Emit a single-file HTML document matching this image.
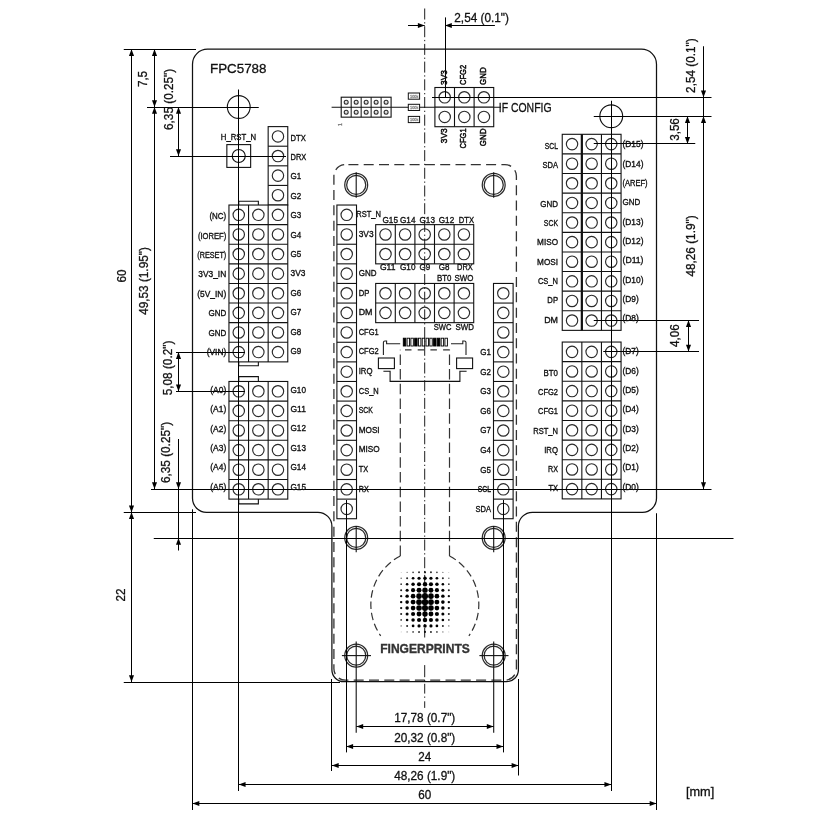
<!DOCTYPE html>
<html lang="en"><head><meta charset="utf-8"><title>FPC5788 mechanical drawing</title>
<style>
html,body{margin:0;padding:0;background:#fff;}
body{width:829px;height:820px;overflow:hidden;font-family:"Liberation Sans",Arial,sans-serif;}
svg{display:block;}
text{font-family:"Liberation Sans",Arial,sans-serif;}
</style></head><body>
<svg width="829" height="820" viewBox="0 0 829 820">
<g stroke="#111" fill="none" stroke-linecap="butt">
<line x1="331.60" y1="107.20" x2="501.00" y2="107.20" stroke-width="1.1" />
<path d="M207.5,49.2 H641.5 A15 15 0 0 1 656.5,64.2 V498.29999999999995 A14 14 0 0 1 642.5,512.3 H532.4 A14 14 0 0 0 518.4,526.3 V669.7 A12 12 0 0 1 506.4,681.7 H343.9 A12 12 0 0 1 331.9,669.7 V526.3 A14 14 0 0 0 317.9,512.3 H206.5 A14 14 0 0 1 192.5,498.29999999999995 V64.2 A15 15 0 0 1 207.5,49.2 Z" stroke-width="1.25"/>
<rect x="333.9" y="164.6" width="182.50" height="515.60" rx="11.5" ry="11.5" stroke="#333" stroke-width="1.3" stroke-dasharray="10 5.3" stroke-dashoffset="-3"/>
<circle cx="238.75" cy="107.0" r="11.4" stroke-width="1.1"/>
<circle cx="611.25" cy="116.25" r="11.4" stroke-width="1.1"/>
<circle cx="356.2" cy="184.9" r="11.45" stroke-width="1.25" stroke="#2a2a2a"/>
<circle cx="356.2" cy="184.9" r="9.55" stroke-width="1.25" stroke="#2a2a2a"/>
<circle cx="356.2" cy="537.9" r="11.45" stroke-width="1.25" stroke="#2a2a2a"/>
<circle cx="356.2" cy="537.9" r="9.55" stroke-width="1.25" stroke="#2a2a2a"/>
<circle cx="356.2" cy="655.6" r="11.45" stroke-width="1.25" stroke="#2a2a2a"/>
<circle cx="356.2" cy="655.6" r="9.55" stroke-width="1.25" stroke="#2a2a2a"/>
<line x1="356.20" y1="172.20" x2="356.20" y2="197.70" stroke-width="1.1" />
<line x1="356.20" y1="525.90" x2="356.20" y2="552.20" stroke-width="1.1" />
<line x1="356.20" y1="641.50" x2="356.20" y2="732.70" stroke-width="1.1" />
<line x1="341.90" y1="655.60" x2="371.00" y2="655.60" stroke-width="1.1" />
<circle cx="493.7" cy="184.9" r="11.45" stroke-width="1.25" stroke="#2a2a2a"/>
<circle cx="493.7" cy="184.9" r="9.55" stroke-width="1.25" stroke="#2a2a2a"/>
<circle cx="493.7" cy="537.9" r="11.45" stroke-width="1.25" stroke="#2a2a2a"/>
<circle cx="493.7" cy="537.9" r="9.55" stroke-width="1.25" stroke="#2a2a2a"/>
<circle cx="493.7" cy="655.6" r="11.45" stroke-width="1.25" stroke="#2a2a2a"/>
<circle cx="493.7" cy="655.6" r="9.55" stroke-width="1.25" stroke="#2a2a2a"/>
<line x1="493.70" y1="172.20" x2="493.70" y2="197.70" stroke-width="1.1" />
<line x1="493.70" y1="525.90" x2="493.70" y2="552.20" stroke-width="1.1" />
<line x1="493.70" y1="641.50" x2="493.70" y2="732.70" stroke-width="1.1" />
<line x1="479.40" y1="655.60" x2="508.50" y2="655.60" stroke-width="1.1" />
<rect x="268.16" y="126.61" width="19.61" height="78.42" fill="#fff" stroke-width="1.1"/>
<line x1="268.16" y1="146.21" x2="287.76" y2="146.21" stroke-width="1.1" />
<line x1="268.16" y1="165.82" x2="287.76" y2="165.82" stroke-width="1.1" />
<line x1="268.16" y1="185.42" x2="287.76" y2="185.42" stroke-width="1.1" />
<circle cx="277.96" cy="136.41" r="5.7" fill="none" stroke-width="1.15" stroke="#2a2a2a"/>
<circle cx="277.96" cy="156.01" r="5.7" fill="none" stroke-width="1.15" stroke="#2a2a2a"/>
<circle cx="277.96" cy="175.62" r="5.7" fill="none" stroke-width="1.15" stroke="#2a2a2a"/>
<circle cx="277.96" cy="195.23" r="5.7" fill="none" stroke-width="1.15" stroke="#2a2a2a"/>
<rect x="228.95" y="205.03" width="58.82" height="156.85" fill="#fff" stroke-width="1.1"/>
<line x1="248.55" y1="205.03" x2="248.55" y2="361.88" stroke-width="1.1" />
<line x1="268.16" y1="205.03" x2="268.16" y2="361.88" stroke-width="1.1" />
<line x1="228.95" y1="224.64" x2="287.76" y2="224.64" stroke-width="1.1" />
<line x1="228.95" y1="244.24" x2="287.76" y2="244.24" stroke-width="1.1" />
<line x1="228.95" y1="263.85" x2="287.76" y2="263.85" stroke-width="1.1" />
<line x1="228.95" y1="283.45" x2="287.76" y2="283.45" stroke-width="1.1" />
<line x1="228.95" y1="303.06" x2="287.76" y2="303.06" stroke-width="1.1" />
<line x1="228.95" y1="322.67" x2="287.76" y2="322.67" stroke-width="1.1" />
<line x1="228.95" y1="342.27" x2="287.76" y2="342.27" stroke-width="1.1" />
<circle cx="238.75" cy="214.83" r="5.7" fill="none" stroke-width="1.15" stroke="#2a2a2a"/>
<circle cx="238.75" cy="234.44" r="5.7" fill="none" stroke-width="1.15" stroke="#2a2a2a"/>
<circle cx="238.75" cy="254.05" r="5.7" fill="none" stroke-width="1.15" stroke="#2a2a2a"/>
<circle cx="238.75" cy="273.65" r="5.7" fill="none" stroke-width="1.15" stroke="#2a2a2a"/>
<circle cx="238.75" cy="293.26" r="5.7" fill="none" stroke-width="1.15" stroke="#2a2a2a"/>
<circle cx="238.75" cy="312.86" r="5.7" fill="none" stroke-width="1.15" stroke="#2a2a2a"/>
<circle cx="238.75" cy="332.47" r="5.7" fill="none" stroke-width="1.15" stroke="#2a2a2a"/>
<circle cx="238.75" cy="352.08" r="5.7" fill="none" stroke-width="1.15" stroke="#2a2a2a"/>
<circle cx="258.36" cy="214.83" r="5.7" fill="none" stroke-width="1.15" stroke="#2a2a2a"/>
<circle cx="258.36" cy="234.44" r="5.7" fill="none" stroke-width="1.15" stroke="#2a2a2a"/>
<circle cx="258.36" cy="254.05" r="5.7" fill="none" stroke-width="1.15" stroke="#2a2a2a"/>
<circle cx="258.36" cy="273.65" r="5.7" fill="none" stroke-width="1.15" stroke="#2a2a2a"/>
<circle cx="258.36" cy="293.26" r="5.7" fill="none" stroke-width="1.15" stroke="#2a2a2a"/>
<circle cx="258.36" cy="312.86" r="5.7" fill="none" stroke-width="1.15" stroke="#2a2a2a"/>
<circle cx="258.36" cy="332.47" r="5.7" fill="none" stroke-width="1.15" stroke="#2a2a2a"/>
<circle cx="258.36" cy="352.08" r="5.7" fill="none" stroke-width="1.15" stroke="#2a2a2a"/>
<circle cx="277.96" cy="214.83" r="5.7" fill="none" stroke-width="1.15" stroke="#2a2a2a"/>
<circle cx="277.96" cy="234.44" r="5.7" fill="none" stroke-width="1.15" stroke="#2a2a2a"/>
<circle cx="277.96" cy="254.05" r="5.7" fill="none" stroke-width="1.15" stroke="#2a2a2a"/>
<circle cx="277.96" cy="273.65" r="5.7" fill="none" stroke-width="1.15" stroke="#2a2a2a"/>
<circle cx="277.96" cy="293.26" r="5.7" fill="none" stroke-width="1.15" stroke="#2a2a2a"/>
<circle cx="277.96" cy="312.86" r="5.7" fill="none" stroke-width="1.15" stroke="#2a2a2a"/>
<circle cx="277.96" cy="332.47" r="5.7" fill="none" stroke-width="1.15" stroke="#2a2a2a"/>
<circle cx="277.96" cy="352.08" r="5.7" fill="none" stroke-width="1.15" stroke="#2a2a2a"/>
<rect x="228.95" y="381.47" width="58.82" height="117.64" fill="#fff" stroke-width="1.1"/>
<line x1="248.55" y1="381.47" x2="248.55" y2="499.11" stroke-width="1.1" />
<line x1="268.16" y1="381.47" x2="268.16" y2="499.11" stroke-width="1.1" />
<line x1="228.95" y1="401.08" x2="287.76" y2="401.08" stroke-width="1.1" />
<line x1="228.95" y1="420.68" x2="287.76" y2="420.68" stroke-width="1.1" />
<line x1="228.95" y1="440.29" x2="287.76" y2="440.29" stroke-width="1.1" />
<line x1="228.95" y1="459.90" x2="287.76" y2="459.90" stroke-width="1.1" />
<line x1="228.95" y1="479.50" x2="287.76" y2="479.50" stroke-width="1.1" />
<circle cx="238.75" cy="391.28" r="5.7" fill="none" stroke-width="1.15" stroke="#2a2a2a"/>
<circle cx="238.75" cy="410.88" r="5.7" fill="none" stroke-width="1.15" stroke="#2a2a2a"/>
<circle cx="238.75" cy="430.49" r="5.7" fill="none" stroke-width="1.15" stroke="#2a2a2a"/>
<circle cx="238.75" cy="450.09" r="5.7" fill="none" stroke-width="1.15" stroke="#2a2a2a"/>
<circle cx="238.75" cy="469.70" r="5.7" fill="none" stroke-width="1.15" stroke="#2a2a2a"/>
<circle cx="238.75" cy="489.31" r="5.7" fill="none" stroke-width="1.15" stroke="#2a2a2a"/>
<circle cx="258.36" cy="391.28" r="5.7" fill="none" stroke-width="1.15" stroke="#2a2a2a"/>
<circle cx="258.36" cy="410.88" r="5.7" fill="none" stroke-width="1.15" stroke="#2a2a2a"/>
<circle cx="258.36" cy="430.49" r="5.7" fill="none" stroke-width="1.15" stroke="#2a2a2a"/>
<circle cx="258.36" cy="450.09" r="5.7" fill="none" stroke-width="1.15" stroke="#2a2a2a"/>
<circle cx="258.36" cy="469.70" r="5.7" fill="none" stroke-width="1.15" stroke="#2a2a2a"/>
<circle cx="258.36" cy="489.31" r="5.7" fill="none" stroke-width="1.15" stroke="#2a2a2a"/>
<circle cx="277.96" cy="391.28" r="5.7" fill="none" stroke-width="1.15" stroke="#2a2a2a"/>
<circle cx="277.96" cy="410.88" r="5.7" fill="none" stroke-width="1.15" stroke="#2a2a2a"/>
<circle cx="277.96" cy="430.49" r="5.7" fill="none" stroke-width="1.15" stroke="#2a2a2a"/>
<circle cx="277.96" cy="450.09" r="5.7" fill="none" stroke-width="1.15" stroke="#2a2a2a"/>
<circle cx="277.96" cy="469.70" r="5.7" fill="none" stroke-width="1.15" stroke="#2a2a2a"/>
<circle cx="277.96" cy="489.31" r="5.7" fill="none" stroke-width="1.15" stroke="#2a2a2a"/>
<path d="M238.75,205.03 V201.23 H258.36 V205.03" stroke-width="1.1"/>
<path d="M238.75,361.88 V365.68 H258.36 V361.88" stroke-width="1.1"/>
<path d="M238.75,381.47 V376.67 H258.36 V381.47" stroke-width="1.1"/>
<path d="M238.75,499.11 V503.91 H258.36 V499.11" stroke-width="1.1"/>
<rect x="226.85" y="144.61" width="23.8" height="22.8" stroke-width="1.1"/>
<circle cx="238.75" cy="156.01" r="6.5" stroke-width="1.15"/>
<rect x="562.24" y="134.30" width="58.82" height="196.06" fill="#fff" stroke-width="1.1"/>
<line x1="581.84" y1="134.30" x2="581.84" y2="330.36" stroke-width="1.1" />
<line x1="601.45" y1="134.30" x2="601.45" y2="330.36" stroke-width="1.1" />
<line x1="562.24" y1="153.90" x2="621.05" y2="153.90" stroke-width="1.1" />
<line x1="562.24" y1="173.51" x2="621.05" y2="173.51" stroke-width="1.1" />
<line x1="562.24" y1="193.12" x2="621.05" y2="193.12" stroke-width="1.1" />
<line x1="562.24" y1="212.72" x2="621.05" y2="212.72" stroke-width="1.1" />
<line x1="562.24" y1="232.33" x2="621.05" y2="232.33" stroke-width="1.1" />
<line x1="562.24" y1="251.93" x2="621.05" y2="251.93" stroke-width="1.1" />
<line x1="562.24" y1="271.54" x2="621.05" y2="271.54" stroke-width="1.1" />
<line x1="562.24" y1="291.14" x2="621.05" y2="291.14" stroke-width="1.1" />
<line x1="562.24" y1="310.75" x2="621.05" y2="310.75" stroke-width="1.1" />
<circle cx="572.04" cy="144.10" r="5.7" fill="none" stroke-width="1.15" stroke="#2a2a2a"/>
<circle cx="572.04" cy="163.71" r="5.7" fill="none" stroke-width="1.15" stroke="#2a2a2a"/>
<circle cx="572.04" cy="183.31" r="5.7" fill="none" stroke-width="1.15" stroke="#2a2a2a"/>
<circle cx="572.04" cy="202.92" r="5.7" fill="none" stroke-width="1.15" stroke="#2a2a2a"/>
<circle cx="572.04" cy="222.52" r="5.7" fill="none" stroke-width="1.15" stroke="#2a2a2a"/>
<circle cx="572.04" cy="242.13" r="5.7" fill="none" stroke-width="1.15" stroke="#2a2a2a"/>
<circle cx="572.04" cy="261.74" r="5.7" fill="none" stroke-width="1.15" stroke="#2a2a2a"/>
<circle cx="572.04" cy="281.34" r="5.7" fill="none" stroke-width="1.15" stroke="#2a2a2a"/>
<circle cx="572.04" cy="300.95" r="5.7" fill="none" stroke-width="1.15" stroke="#2a2a2a"/>
<circle cx="572.04" cy="320.55" r="5.7" fill="none" stroke-width="1.15" stroke="#2a2a2a"/>
<circle cx="591.64" cy="144.10" r="5.7" fill="none" stroke-width="1.15" stroke="#2a2a2a"/>
<circle cx="591.64" cy="163.71" r="5.7" fill="none" stroke-width="1.15" stroke="#2a2a2a"/>
<circle cx="591.64" cy="183.31" r="5.7" fill="none" stroke-width="1.15" stroke="#2a2a2a"/>
<circle cx="591.64" cy="202.92" r="5.7" fill="none" stroke-width="1.15" stroke="#2a2a2a"/>
<circle cx="591.64" cy="222.52" r="5.7" fill="none" stroke-width="1.15" stroke="#2a2a2a"/>
<circle cx="591.64" cy="242.13" r="5.7" fill="none" stroke-width="1.15" stroke="#2a2a2a"/>
<circle cx="591.64" cy="261.74" r="5.7" fill="none" stroke-width="1.15" stroke="#2a2a2a"/>
<circle cx="591.64" cy="281.34" r="5.7" fill="none" stroke-width="1.15" stroke="#2a2a2a"/>
<circle cx="591.64" cy="300.95" r="5.7" fill="none" stroke-width="1.15" stroke="#2a2a2a"/>
<circle cx="591.64" cy="320.55" r="5.7" fill="none" stroke-width="1.15" stroke="#2a2a2a"/>
<circle cx="611.25" cy="144.10" r="5.7" fill="none" stroke-width="1.15" stroke="#2a2a2a"/>
<circle cx="611.25" cy="163.71" r="5.7" fill="none" stroke-width="1.15" stroke="#2a2a2a"/>
<circle cx="611.25" cy="183.31" r="5.7" fill="none" stroke-width="1.15" stroke="#2a2a2a"/>
<circle cx="611.25" cy="202.92" r="5.7" fill="none" stroke-width="1.15" stroke="#2a2a2a"/>
<circle cx="611.25" cy="222.52" r="5.7" fill="none" stroke-width="1.15" stroke="#2a2a2a"/>
<circle cx="611.25" cy="242.13" r="5.7" fill="none" stroke-width="1.15" stroke="#2a2a2a"/>
<circle cx="611.25" cy="261.74" r="5.7" fill="none" stroke-width="1.15" stroke="#2a2a2a"/>
<circle cx="611.25" cy="281.34" r="5.7" fill="none" stroke-width="1.15" stroke="#2a2a2a"/>
<circle cx="611.25" cy="300.95" r="5.7" fill="none" stroke-width="1.15" stroke="#2a2a2a"/>
<circle cx="611.25" cy="320.55" r="5.7" fill="none" stroke-width="1.15" stroke="#2a2a2a"/>
<line x1="581.84" y1="134.30" x2="581.84" y2="330.36" stroke-width="2.2" />
<rect x="562.24" y="342.05" width="58.82" height="156.85" fill="#fff" stroke-width="1.1"/>
<line x1="581.84" y1="342.05" x2="581.84" y2="498.90" stroke-width="1.1" />
<line x1="601.45" y1="342.05" x2="601.45" y2="498.90" stroke-width="1.1" />
<line x1="562.24" y1="361.66" x2="621.05" y2="361.66" stroke-width="1.1" />
<line x1="562.24" y1="381.26" x2="621.05" y2="381.26" stroke-width="1.1" />
<line x1="562.24" y1="400.87" x2="621.05" y2="400.87" stroke-width="1.1" />
<line x1="562.24" y1="420.48" x2="621.05" y2="420.48" stroke-width="1.1" />
<line x1="562.24" y1="440.08" x2="621.05" y2="440.08" stroke-width="1.1" />
<line x1="562.24" y1="459.69" x2="621.05" y2="459.69" stroke-width="1.1" />
<line x1="562.24" y1="479.29" x2="621.05" y2="479.29" stroke-width="1.1" />
<circle cx="572.04" cy="351.85" r="5.7" fill="none" stroke-width="1.15" stroke="#2a2a2a"/>
<circle cx="572.04" cy="371.46" r="5.7" fill="none" stroke-width="1.15" stroke="#2a2a2a"/>
<circle cx="572.04" cy="391.07" r="5.7" fill="none" stroke-width="1.15" stroke="#2a2a2a"/>
<circle cx="572.04" cy="410.67" r="5.7" fill="none" stroke-width="1.15" stroke="#2a2a2a"/>
<circle cx="572.04" cy="430.28" r="5.7" fill="none" stroke-width="1.15" stroke="#2a2a2a"/>
<circle cx="572.04" cy="449.88" r="5.7" fill="none" stroke-width="1.15" stroke="#2a2a2a"/>
<circle cx="572.04" cy="469.49" r="5.7" fill="none" stroke-width="1.15" stroke="#2a2a2a"/>
<circle cx="572.04" cy="489.10" r="5.7" fill="none" stroke-width="1.15" stroke="#2a2a2a"/>
<circle cx="591.64" cy="351.85" r="5.7" fill="none" stroke-width="1.15" stroke="#2a2a2a"/>
<circle cx="591.64" cy="371.46" r="5.7" fill="none" stroke-width="1.15" stroke="#2a2a2a"/>
<circle cx="591.64" cy="391.07" r="5.7" fill="none" stroke-width="1.15" stroke="#2a2a2a"/>
<circle cx="591.64" cy="410.67" r="5.7" fill="none" stroke-width="1.15" stroke="#2a2a2a"/>
<circle cx="591.64" cy="430.28" r="5.7" fill="none" stroke-width="1.15" stroke="#2a2a2a"/>
<circle cx="591.64" cy="449.88" r="5.7" fill="none" stroke-width="1.15" stroke="#2a2a2a"/>
<circle cx="591.64" cy="469.49" r="5.7" fill="none" stroke-width="1.15" stroke="#2a2a2a"/>
<circle cx="591.64" cy="489.10" r="5.7" fill="none" stroke-width="1.15" stroke="#2a2a2a"/>
<circle cx="611.25" cy="351.85" r="5.7" fill="none" stroke-width="1.15" stroke="#2a2a2a"/>
<circle cx="611.25" cy="371.46" r="5.7" fill="none" stroke-width="1.15" stroke="#2a2a2a"/>
<circle cx="611.25" cy="391.07" r="5.7" fill="none" stroke-width="1.15" stroke="#2a2a2a"/>
<circle cx="611.25" cy="410.67" r="5.7" fill="none" stroke-width="1.15" stroke="#2a2a2a"/>
<circle cx="611.25" cy="430.28" r="5.7" fill="none" stroke-width="1.15" stroke="#2a2a2a"/>
<circle cx="611.25" cy="449.88" r="5.7" fill="none" stroke-width="1.15" stroke="#2a2a2a"/>
<circle cx="611.25" cy="469.49" r="5.7" fill="none" stroke-width="1.15" stroke="#2a2a2a"/>
<circle cx="611.25" cy="489.10" r="5.7" fill="none" stroke-width="1.15" stroke="#2a2a2a"/>
<rect x="336.90" y="205.03" width="19.61" height="313.70" fill="#fff" stroke-width="1.1"/>
<line x1="336.90" y1="224.64" x2="356.50" y2="224.64" stroke-width="1.1" />
<line x1="336.90" y1="244.24" x2="356.50" y2="244.24" stroke-width="1.1" />
<line x1="336.90" y1="263.85" x2="356.50" y2="263.85" stroke-width="1.1" />
<line x1="336.90" y1="283.45" x2="356.50" y2="283.45" stroke-width="1.1" />
<line x1="336.90" y1="303.06" x2="356.50" y2="303.06" stroke-width="1.1" />
<line x1="336.90" y1="322.67" x2="356.50" y2="322.67" stroke-width="1.1" />
<line x1="336.90" y1="342.27" x2="356.50" y2="342.27" stroke-width="1.1" />
<line x1="336.90" y1="361.88" x2="356.50" y2="361.88" stroke-width="1.1" />
<line x1="336.90" y1="381.48" x2="356.50" y2="381.48" stroke-width="1.1" />
<line x1="336.90" y1="401.09" x2="356.50" y2="401.09" stroke-width="1.1" />
<line x1="336.90" y1="420.70" x2="356.50" y2="420.70" stroke-width="1.1" />
<line x1="336.90" y1="440.30" x2="356.50" y2="440.30" stroke-width="1.1" />
<line x1="336.90" y1="459.91" x2="356.50" y2="459.91" stroke-width="1.1" />
<line x1="336.90" y1="479.51" x2="356.50" y2="479.51" stroke-width="1.1" />
<line x1="336.90" y1="499.12" x2="356.50" y2="499.12" stroke-width="1.1" />
<circle cx="346.70" cy="214.83" r="5.7" fill="none" stroke-width="1.15" stroke="#2a2a2a"/>
<circle cx="346.70" cy="234.44" r="5.7" fill="none" stroke-width="1.15" stroke="#2a2a2a"/>
<circle cx="346.70" cy="254.05" r="5.7" fill="none" stroke-width="1.15" stroke="#2a2a2a"/>
<circle cx="346.70" cy="273.65" r="5.7" fill="none" stroke-width="1.15" stroke="#2a2a2a"/>
<circle cx="346.70" cy="293.26" r="5.7" fill="none" stroke-width="1.15" stroke="#2a2a2a"/>
<circle cx="346.70" cy="312.86" r="5.7" fill="none" stroke-width="1.15" stroke="#2a2a2a"/>
<circle cx="346.70" cy="332.47" r="5.7" fill="none" stroke-width="1.15" stroke="#2a2a2a"/>
<circle cx="346.70" cy="352.08" r="5.7" fill="none" stroke-width="1.15" stroke="#2a2a2a"/>
<circle cx="346.70" cy="371.68" r="5.7" fill="none" stroke-width="1.15" stroke="#2a2a2a"/>
<circle cx="346.70" cy="391.29" r="5.7" fill="none" stroke-width="1.15" stroke="#2a2a2a"/>
<circle cx="346.70" cy="410.89" r="5.7" fill="none" stroke-width="1.15" stroke="#2a2a2a"/>
<circle cx="346.70" cy="430.50" r="5.7" fill="none" stroke-width="1.15" stroke="#2a2a2a"/>
<circle cx="346.70" cy="450.11" r="5.7" fill="none" stroke-width="1.15" stroke="#2a2a2a"/>
<circle cx="346.70" cy="469.71" r="5.7" fill="none" stroke-width="1.15" stroke="#2a2a2a"/>
<circle cx="346.70" cy="489.32" r="5.7" fill="none" stroke-width="1.15" stroke="#2a2a2a"/>
<circle cx="346.70" cy="508.92" r="5.7" fill="none" stroke-width="1.15" stroke="#2a2a2a"/>
<rect x="493.50" y="283.45" width="19.61" height="235.27" fill="#fff" stroke-width="1.1"/>
<line x1="493.50" y1="303.06" x2="513.10" y2="303.06" stroke-width="1.1" />
<line x1="493.50" y1="322.67" x2="513.10" y2="322.67" stroke-width="1.1" />
<line x1="493.50" y1="342.27" x2="513.10" y2="342.27" stroke-width="1.1" />
<line x1="493.50" y1="361.88" x2="513.10" y2="361.88" stroke-width="1.1" />
<line x1="493.50" y1="381.48" x2="513.10" y2="381.48" stroke-width="1.1" />
<line x1="493.50" y1="401.09" x2="513.10" y2="401.09" stroke-width="1.1" />
<line x1="493.50" y1="420.70" x2="513.10" y2="420.70" stroke-width="1.1" />
<line x1="493.50" y1="440.30" x2="513.10" y2="440.30" stroke-width="1.1" />
<line x1="493.50" y1="459.91" x2="513.10" y2="459.91" stroke-width="1.1" />
<line x1="493.50" y1="479.51" x2="513.10" y2="479.51" stroke-width="1.1" />
<line x1="493.50" y1="499.12" x2="513.10" y2="499.12" stroke-width="1.1" />
<circle cx="503.30" cy="293.26" r="5.7" fill="none" stroke-width="1.15" stroke="#2a2a2a"/>
<circle cx="503.30" cy="312.86" r="5.7" fill="none" stroke-width="1.15" stroke="#2a2a2a"/>
<circle cx="503.30" cy="332.47" r="5.7" fill="none" stroke-width="1.15" stroke="#2a2a2a"/>
<circle cx="503.30" cy="352.07" r="5.7" fill="none" stroke-width="1.15" stroke="#2a2a2a"/>
<circle cx="503.30" cy="371.68" r="5.7" fill="none" stroke-width="1.15" stroke="#2a2a2a"/>
<circle cx="503.30" cy="391.29" r="5.7" fill="none" stroke-width="1.15" stroke="#2a2a2a"/>
<circle cx="503.30" cy="410.89" r="5.7" fill="none" stroke-width="1.15" stroke="#2a2a2a"/>
<circle cx="503.30" cy="430.50" r="5.7" fill="none" stroke-width="1.15" stroke="#2a2a2a"/>
<circle cx="503.30" cy="450.11" r="5.7" fill="none" stroke-width="1.15" stroke="#2a2a2a"/>
<circle cx="503.30" cy="469.71" r="5.7" fill="none" stroke-width="1.15" stroke="#2a2a2a"/>
<circle cx="503.30" cy="489.32" r="5.7" fill="none" stroke-width="1.15" stroke="#2a2a2a"/>
<circle cx="503.30" cy="508.92" r="5.7" fill="none" stroke-width="1.15" stroke="#2a2a2a"/>
<rect x="375.69" y="224.64" width="98.03" height="39.21" fill="#fff" stroke-width="1.1"/>
<line x1="395.29" y1="224.64" x2="395.29" y2="263.85" stroke-width="1.1" />
<line x1="414.90" y1="224.64" x2="414.90" y2="263.85" stroke-width="1.1" />
<line x1="434.50" y1="224.64" x2="434.50" y2="263.85" stroke-width="1.1" />
<line x1="454.11" y1="224.64" x2="454.11" y2="263.85" stroke-width="1.1" />
<line x1="375.69" y1="244.24" x2="473.72" y2="244.24" stroke-width="1.1" />
<circle cx="385.49" cy="234.44" r="5.7" fill="none" stroke-width="1.15" stroke="#2a2a2a"/>
<circle cx="385.49" cy="254.05" r="5.7" fill="none" stroke-width="1.15" stroke="#2a2a2a"/>
<circle cx="405.09" cy="234.44" r="5.7" fill="none" stroke-width="1.15" stroke="#2a2a2a"/>
<circle cx="405.09" cy="254.05" r="5.7" fill="none" stroke-width="1.15" stroke="#2a2a2a"/>
<circle cx="424.70" cy="234.44" r="5.7" fill="none" stroke-width="1.15" stroke="#2a2a2a"/>
<circle cx="424.70" cy="254.05" r="5.7" fill="none" stroke-width="1.15" stroke="#2a2a2a"/>
<circle cx="444.31" cy="234.44" r="5.7" fill="none" stroke-width="1.15" stroke="#2a2a2a"/>
<circle cx="444.31" cy="254.05" r="5.7" fill="none" stroke-width="1.15" stroke="#2a2a2a"/>
<circle cx="463.91" cy="234.44" r="5.7" fill="none" stroke-width="1.15" stroke="#2a2a2a"/>
<circle cx="463.91" cy="254.05" r="5.7" fill="none" stroke-width="1.15" stroke="#2a2a2a"/>
<rect x="375.69" y="283.45" width="98.03" height="39.21" fill="#fff" stroke-width="1.1"/>
<line x1="395.29" y1="283.45" x2="395.29" y2="322.67" stroke-width="1.1" />
<line x1="414.90" y1="283.45" x2="414.90" y2="322.67" stroke-width="1.1" />
<line x1="434.50" y1="283.45" x2="434.50" y2="322.67" stroke-width="1.1" />
<line x1="454.11" y1="283.45" x2="454.11" y2="322.67" stroke-width="1.1" />
<line x1="375.69" y1="303.06" x2="473.72" y2="303.06" stroke-width="1.1" />
<circle cx="385.49" cy="293.26" r="5.7" fill="none" stroke-width="1.15" stroke="#2a2a2a"/>
<circle cx="385.49" cy="312.86" r="5.7" fill="none" stroke-width="1.15" stroke="#2a2a2a"/>
<circle cx="405.09" cy="293.26" r="5.7" fill="none" stroke-width="1.15" stroke="#2a2a2a"/>
<circle cx="405.09" cy="312.86" r="5.7" fill="none" stroke-width="1.15" stroke="#2a2a2a"/>
<circle cx="424.70" cy="293.26" r="5.7" fill="none" stroke-width="1.15" stroke="#2a2a2a"/>
<circle cx="424.70" cy="312.86" r="5.7" fill="none" stroke-width="1.15" stroke="#2a2a2a"/>
<circle cx="444.31" cy="293.26" r="5.7" fill="none" stroke-width="1.15" stroke="#2a2a2a"/>
<circle cx="444.31" cy="312.86" r="5.7" fill="none" stroke-width="1.15" stroke="#2a2a2a"/>
<circle cx="463.91" cy="293.26" r="5.7" fill="none" stroke-width="1.15" stroke="#2a2a2a"/>
<circle cx="463.91" cy="312.86" r="5.7" fill="none" stroke-width="1.15" stroke="#2a2a2a"/>
<line x1="424.7" y1="8.5" x2="424.7" y2="637.5" stroke-width="0.95" stroke-dasharray="11 2.7 1.3 2.7"/>
<path d="M424.7,665.1 V677.2 M424.7,680 V681.3 M424.7,683.8 V693.6 M424.7,696.5 V697.8 M424.7,701.3 V707.9" stroke-width="0.95"/>
<rect x="434.90" y="87.50" width="58.82" height="39.21" fill="#fff" stroke-width="1.1"/>
<line x1="454.50" y1="87.50" x2="454.50" y2="126.71" stroke-width="1.1" />
<line x1="474.11" y1="87.50" x2="474.11" y2="126.71" stroke-width="1.1" />
<line x1="434.90" y1="107.10" x2="493.71" y2="107.10" stroke-width="1.1" />
<circle cx="444.70" cy="97.30" r="5.7" fill="none" stroke-width="1.15" stroke="#2a2a2a"/>
<circle cx="444.70" cy="116.91" r="5.7" fill="none" stroke-width="1.15" stroke="#2a2a2a"/>
<circle cx="464.31" cy="97.30" r="5.7" fill="none" stroke-width="1.15" stroke="#2a2a2a"/>
<circle cx="464.31" cy="116.91" r="5.7" fill="none" stroke-width="1.15" stroke="#2a2a2a"/>
<circle cx="483.91" cy="97.30" r="5.7" fill="none" stroke-width="1.15" stroke="#2a2a2a"/>
<circle cx="483.91" cy="116.91" r="5.7" fill="none" stroke-width="1.15" stroke="#2a2a2a"/>
<rect x="341.2" y="97.2" width="49.90" height="19.96" fill="#fff" stroke-width="1.1"/>
<line x1="351.18" y1="97.20" x2="351.18" y2="117.16" stroke-width="1.0" />
<line x1="361.16" y1="97.20" x2="361.16" y2="117.16" stroke-width="1.0" />
<line x1="371.14" y1="97.20" x2="371.14" y2="117.16" stroke-width="1.0" />
<line x1="381.12" y1="97.20" x2="381.12" y2="117.16" stroke-width="1.0" />
<line x1="341.20" y1="107.18" x2="391.10" y2="107.18" stroke-width="1.1" />
<circle cx="346.19" cy="102.29" r="2.0" stroke-width="1.05" stroke="#2a2a2a" fill="#ddd"/>
<circle cx="346.19" cy="112.27" r="2.0" stroke-width="1.05" stroke="#2a2a2a" fill="#ddd"/>
<circle cx="356.17" cy="102.29" r="2.0" stroke-width="1.05" stroke="#2a2a2a" fill="#ddd"/>
<circle cx="356.17" cy="112.27" r="2.0" stroke-width="1.05" stroke="#2a2a2a" fill="#ddd"/>
<circle cx="366.15" cy="102.29" r="2.0" stroke-width="1.05" stroke="#2a2a2a" fill="#ddd"/>
<circle cx="366.15" cy="112.27" r="2.0" stroke-width="1.05" stroke="#2a2a2a" fill="#ddd"/>
<circle cx="376.13" cy="102.29" r="2.0" stroke-width="1.05" stroke="#2a2a2a" fill="#ddd"/>
<circle cx="376.13" cy="112.27" r="2.0" stroke-width="1.05" stroke="#2a2a2a" fill="#ddd"/>
<circle cx="386.11" cy="102.29" r="2.0" stroke-width="1.05" stroke="#2a2a2a" fill="#ddd"/>
<circle cx="386.11" cy="112.27" r="2.0" stroke-width="1.05" stroke="#2a2a2a" fill="#ddd"/>
<rect x="408.3" y="93.0" width="11.3" height="6.2" fill="#fff" stroke-width="1.0"/>
<rect x="408.3" y="104.3" width="11.3" height="6.2" fill="#fff" stroke-width="1.0"/>
<rect x="408.3" y="116.4" width="11.3" height="6.2" fill="#fff" stroke-width="1.0"/>
<path d="M383.4,355 V342.6 Q383.4,341 385,341 H386.6 V343.8 H400.2" stroke-width="1.1" stroke="#222"/>
<path d="M466,355 V342.6 Q466,341 464.4,341 H462.8 V343.8 H451" stroke-width="1.1" stroke="#222"/>
<rect x="378.4" y="358" width="16" height="10.6" stroke-width="1.1" fill="#fff"/>
<rect x="456.6" y="358" width="16" height="10.6" stroke-width="1.1" fill="#fff"/>
<path d="M383.4,371.3 H390.1 V381.4 H459.9 V371.3 H466.6" stroke-width="1.1"/>
<rect x="403.30" y="338.2" width="2.48" height="7.8" fill="#000" stroke="#000" stroke-width="0.9"/>
<rect x="407.08" y="338.2" width="2.48" height="7.8" fill="#fff" stroke="#000" stroke-width="0.9"/>
<rect x="410.87" y="338.2" width="2.48" height="7.8" fill="#fff" stroke="#000" stroke-width="0.9"/>
<rect x="414.65" y="338.2" width="2.48" height="7.8" fill="#000" stroke="#000" stroke-width="0.9"/>
<rect x="418.43" y="338.2" width="2.48" height="7.8" fill="#fff" stroke="#000" stroke-width="0.9"/>
<rect x="422.22" y="338.2" width="2.48" height="7.8" fill="#fff" stroke="#000" stroke-width="0.9"/>
<rect x="426.00" y="338.2" width="2.48" height="7.8" fill="#fff" stroke="#000" stroke-width="0.9"/>
<rect x="429.78" y="338.2" width="2.48" height="7.8" fill="#fff" stroke="#000" stroke-width="0.9"/>
<rect x="433.57" y="338.2" width="2.48" height="7.8" fill="#000" stroke="#000" stroke-width="0.9"/>
<rect x="437.35" y="338.2" width="2.48" height="7.8" fill="#000" stroke="#000" stroke-width="0.9"/>
<rect x="441.13" y="338.2" width="2.48" height="7.8" fill="#fff" stroke="#000" stroke-width="0.9"/>
<rect x="444.92" y="338.2" width="2.48" height="7.8" fill="#fff" stroke="#000" stroke-width="0.9"/>
<path d="M400.3,556 V349.8" stroke="#333" stroke-width="1.2" stroke-dasharray="10.5 4.2"/>
<path d="M449.5,556 V349.8" stroke="#333" stroke-width="1.2" stroke-dasharray="10.5 4.2"/>
<path d="M449.6,349.8 H400.3" stroke="#333" stroke-width="1.2" stroke-dasharray="6.5 6.2"/>
<path d="M400.3,556 A54.6 54.6 0 0 0 380.7,635.8" stroke="#333" stroke-width="1.2" stroke-dasharray="7.5 3.8"/>
<path d="M449.5,556 A54.6 54.6 0 0 1 468.9,635.8" stroke="#333" stroke-width="1.2" stroke-dasharray="7.5 3.8"/>
</g>
<g fill="#000">
<circle cx="401.16" cy="572.30" r="0.41" fill-opacity="0.53"/>
<circle cx="401.16" cy="578.26" r="0.67" fill-opacity="0.67"/>
<circle cx="401.16" cy="584.22" r="0.86" fill-opacity="0.78"/>
<circle cx="401.16" cy="590.18" r="1.02" fill-opacity="0.87"/>
<circle cx="401.16" cy="596.14" r="1.16" fill-opacity="0.94"/>
<circle cx="401.16" cy="602.10" r="1.22" fill-opacity="0.98"/>
<circle cx="401.16" cy="608.06" r="1.16" fill-opacity="0.94"/>
<circle cx="401.16" cy="614.02" r="1.02" fill-opacity="0.87"/>
<circle cx="401.16" cy="619.98" r="0.86" fill-opacity="0.78"/>
<circle cx="401.16" cy="625.94" r="0.67" fill-opacity="0.67"/>
<circle cx="401.16" cy="631.90" r="0.41" fill-opacity="0.53"/>
<circle cx="407.12" cy="572.30" r="0.62" fill-opacity="0.64"/>
<circle cx="407.12" cy="578.26" r="1.00" fill-opacity="0.86"/>
<circle cx="407.12" cy="584.22" r="1.30" fill-opacity="1.00"/>
<circle cx="407.12" cy="590.18" r="1.53" fill-opacity="1.00"/>
<circle cx="407.12" cy="596.14" r="1.73" fill-opacity="1.00"/>
<circle cx="407.12" cy="602.10" r="1.82" fill-opacity="1.00"/>
<circle cx="407.12" cy="608.06" r="1.73" fill-opacity="1.00"/>
<circle cx="407.12" cy="614.02" r="1.53" fill-opacity="1.00"/>
<circle cx="407.12" cy="619.98" r="1.30" fill-opacity="1.00"/>
<circle cx="407.12" cy="625.94" r="1.00" fill-opacity="0.86"/>
<circle cx="407.12" cy="631.90" r="0.62" fill-opacity="0.64"/>
<circle cx="413.08" cy="572.30" r="0.84" fill-opacity="0.77"/>
<circle cx="413.08" cy="578.26" r="1.36" fill-opacity="1.00"/>
<circle cx="413.08" cy="584.22" r="1.75" fill-opacity="1.00"/>
<circle cx="413.08" cy="590.18" r="2.07" fill-opacity="1.00"/>
<circle cx="413.08" cy="596.14" r="2.34" fill-opacity="1.00"/>
<circle cx="413.08" cy="602.10" r="2.46" fill-opacity="1.00"/>
<circle cx="413.08" cy="608.06" r="2.34" fill-opacity="1.00"/>
<circle cx="413.08" cy="614.02" r="2.07" fill-opacity="1.00"/>
<circle cx="413.08" cy="619.98" r="1.75" fill-opacity="1.00"/>
<circle cx="413.08" cy="625.94" r="1.36" fill-opacity="1.00"/>
<circle cx="413.08" cy="631.90" r="0.84" fill-opacity="0.77"/>
<circle cx="419.04" cy="572.30" r="0.99" fill-opacity="0.85"/>
<circle cx="419.04" cy="578.26" r="1.60" fill-opacity="1.00"/>
<circle cx="419.04" cy="584.22" r="2.07" fill-opacity="1.00"/>
<circle cx="419.04" cy="590.18" r="2.45" fill-opacity="1.00"/>
<circle cx="419.04" cy="596.14" r="2.77" fill-opacity="1.00"/>
<circle cx="419.04" cy="602.10" r="2.91" fill-opacity="1.00"/>
<circle cx="419.04" cy="608.06" r="2.77" fill-opacity="1.00"/>
<circle cx="419.04" cy="614.02" r="2.45" fill-opacity="1.00"/>
<circle cx="419.04" cy="619.98" r="2.07" fill-opacity="1.00"/>
<circle cx="419.04" cy="625.94" r="1.60" fill-opacity="1.00"/>
<circle cx="419.04" cy="631.90" r="0.99" fill-opacity="0.85"/>
<circle cx="425.00" cy="572.30" r="1.09" fill-opacity="0.90"/>
<circle cx="425.00" cy="578.26" r="1.76" fill-opacity="1.00"/>
<circle cx="425.00" cy="584.22" r="2.27" fill-opacity="1.00"/>
<circle cx="425.00" cy="590.18" r="2.69" fill-opacity="1.00"/>
<circle cx="425.00" cy="596.14" r="3.04" fill-opacity="1.00"/>
<circle cx="425.00" cy="602.10" r="3.20" fill-opacity="1.00"/>
<circle cx="425.00" cy="608.06" r="3.04" fill-opacity="1.00"/>
<circle cx="425.00" cy="614.02" r="2.69" fill-opacity="1.00"/>
<circle cx="425.00" cy="619.98" r="2.27" fill-opacity="1.00"/>
<circle cx="425.00" cy="625.94" r="1.76" fill-opacity="1.00"/>
<circle cx="425.00" cy="631.90" r="1.09" fill-opacity="0.90"/>
<circle cx="430.96" cy="572.30" r="0.99" fill-opacity="0.85"/>
<circle cx="430.96" cy="578.26" r="1.60" fill-opacity="1.00"/>
<circle cx="430.96" cy="584.22" r="2.07" fill-opacity="1.00"/>
<circle cx="430.96" cy="590.18" r="2.45" fill-opacity="1.00"/>
<circle cx="430.96" cy="596.14" r="2.77" fill-opacity="1.00"/>
<circle cx="430.96" cy="602.10" r="2.91" fill-opacity="1.00"/>
<circle cx="430.96" cy="608.06" r="2.77" fill-opacity="1.00"/>
<circle cx="430.96" cy="614.02" r="2.45" fill-opacity="1.00"/>
<circle cx="430.96" cy="619.98" r="2.07" fill-opacity="1.00"/>
<circle cx="430.96" cy="625.94" r="1.60" fill-opacity="1.00"/>
<circle cx="430.96" cy="631.90" r="0.99" fill-opacity="0.85"/>
<circle cx="436.92" cy="572.30" r="0.84" fill-opacity="0.77"/>
<circle cx="436.92" cy="578.26" r="1.36" fill-opacity="1.00"/>
<circle cx="436.92" cy="584.22" r="1.75" fill-opacity="1.00"/>
<circle cx="436.92" cy="590.18" r="2.07" fill-opacity="1.00"/>
<circle cx="436.92" cy="596.14" r="2.34" fill-opacity="1.00"/>
<circle cx="436.92" cy="602.10" r="2.46" fill-opacity="1.00"/>
<circle cx="436.92" cy="608.06" r="2.34" fill-opacity="1.00"/>
<circle cx="436.92" cy="614.02" r="2.07" fill-opacity="1.00"/>
<circle cx="436.92" cy="619.98" r="1.75" fill-opacity="1.00"/>
<circle cx="436.92" cy="625.94" r="1.36" fill-opacity="1.00"/>
<circle cx="436.92" cy="631.90" r="0.84" fill-opacity="0.77"/>
<circle cx="442.88" cy="572.30" r="0.62" fill-opacity="0.64"/>
<circle cx="442.88" cy="578.26" r="1.00" fill-opacity="0.86"/>
<circle cx="442.88" cy="584.22" r="1.30" fill-opacity="1.00"/>
<circle cx="442.88" cy="590.18" r="1.53" fill-opacity="1.00"/>
<circle cx="442.88" cy="596.14" r="1.73" fill-opacity="1.00"/>
<circle cx="442.88" cy="602.10" r="1.82" fill-opacity="1.00"/>
<circle cx="442.88" cy="608.06" r="1.73" fill-opacity="1.00"/>
<circle cx="442.88" cy="614.02" r="1.53" fill-opacity="1.00"/>
<circle cx="442.88" cy="619.98" r="1.30" fill-opacity="1.00"/>
<circle cx="442.88" cy="625.94" r="1.00" fill-opacity="0.86"/>
<circle cx="442.88" cy="631.90" r="0.62" fill-opacity="0.64"/>
<circle cx="448.84" cy="572.30" r="0.41" fill-opacity="0.53"/>
<circle cx="448.84" cy="578.26" r="0.67" fill-opacity="0.67"/>
<circle cx="448.84" cy="584.22" r="0.86" fill-opacity="0.78"/>
<circle cx="448.84" cy="590.18" r="1.02" fill-opacity="0.87"/>
<circle cx="448.84" cy="596.14" r="1.16" fill-opacity="0.94"/>
<circle cx="448.84" cy="602.10" r="1.22" fill-opacity="0.98"/>
<circle cx="448.84" cy="608.06" r="1.16" fill-opacity="0.94"/>
<circle cx="448.84" cy="614.02" r="1.02" fill-opacity="0.87"/>
<circle cx="448.84" cy="619.98" r="0.86" fill-opacity="0.78"/>
<circle cx="448.84" cy="625.94" r="0.67" fill-opacity="0.67"/>
<circle cx="448.84" cy="631.90" r="0.41" fill-opacity="0.53"/>
</g>
<g stroke="#111" fill="none">
<line x1="123.75" y1="49.50" x2="196.00" y2="49.50" stroke-width="1.0" stroke="#000"/>
<line x1="147.00" y1="107.50" x2="258.75" y2="107.50" stroke-width="1.0" stroke="#000"/>
<line x1="170.00" y1="156.50" x2="286.00" y2="156.50" stroke-width="1.0" stroke="#000"/>
<line x1="176.00" y1="352.50" x2="245.00" y2="352.50" stroke-width="1.0" stroke="#000"/>
<line x1="176.00" y1="391.50" x2="245.00" y2="391.50" stroke-width="1.0" stroke="#000"/>
<line x1="151.00" y1="489.50" x2="711.50" y2="489.50" stroke-width="1.0" stroke="#000"/>
<line x1="123.75" y1="512.50" x2="196.00" y2="512.50" stroke-width="1.0" stroke="#000"/>
<line x1="153.75" y1="538.50" x2="733.50" y2="538.50" stroke-width="1.0" stroke="#000"/>
<line x1="123.75" y1="682.50" x2="340.00" y2="682.50" stroke-width="1.0" stroke="#000"/>
<line x1="432.00" y1="97.50" x2="711.50" y2="97.50" stroke-width="1.0" stroke="#000"/>
<line x1="593.75" y1="116.50" x2="711.50" y2="116.50" stroke-width="1.0" stroke="#000"/>
<line x1="593.75" y1="143.50" x2="695.25" y2="143.50" stroke-width="1.0" stroke="#000"/>
<line x1="593.75" y1="320.50" x2="699.00" y2="320.50" stroke-width="1.0" stroke="#000"/>
<line x1="603.25" y1="351.50" x2="699.00" y2="351.50" stroke-width="1.0" stroke="#000"/>
<line x1="131.50" y1="49.20" x2="131.50" y2="682.00" stroke-width="1.0" stroke="#000"/>
<line x1="154.50" y1="49.20" x2="154.50" y2="489.10" stroke-width="1.0" stroke="#000"/>
<line x1="178.50" y1="107.00" x2="178.50" y2="156.00" stroke-width="1.0" stroke="#000"/>
<line x1="178.50" y1="352.08" x2="178.50" y2="391.28" stroke-width="1.0" stroke="#000"/>
<line x1="178.50" y1="439.00" x2="178.50" y2="550.50" stroke-width="1.0" stroke="#000"/>
<line x1="192.50" y1="509.30" x2="192.50" y2="810.00" stroke-width="1.0" stroke="#000"/>
<line x1="238.50" y1="89.50" x2="238.50" y2="791.00" stroke-width="1.0" stroke="#000"/>
<line x1="331.50" y1="679.00" x2="331.50" y2="771.00" stroke-width="1.0" stroke="#000"/>
<line x1="346.50" y1="500.00" x2="346.50" y2="752.40" stroke-width="1.0" stroke="#000"/>
<line x1="503.50" y1="500.00" x2="503.50" y2="752.40" stroke-width="1.0" stroke="#000"/>
<line x1="518.50" y1="679.00" x2="518.50" y2="775.50" stroke-width="1.0" stroke="#000"/>
<line x1="611.50" y1="100.75" x2="611.50" y2="791.00" stroke-width="1.0" stroke="#000"/>
<line x1="656.50" y1="513.25" x2="656.50" y2="810.00" stroke-width="1.0" stroke="#000"/>
<line x1="703.50" y1="46.25" x2="703.50" y2="489.10" stroke-width="1.0" stroke="#000"/>
<line x1="445.50" y1="17.40" x2="445.50" y2="97.30" stroke-width="1.0" stroke="#000"/>
<line x1="408.00" y1="25.50" x2="424.70" y2="25.50" stroke-width="1.0" stroke="#000"/>
<line x1="445.00" y1="25.50" x2="494.90" y2="25.50" stroke-width="1.0" stroke="#000"/>
<line x1="356.40" y1="726.50" x2="493.60" y2="726.50" stroke-width="1.0" stroke="#000"/>
<line x1="346.30" y1="746.50" x2="503.30" y2="746.50" stroke-width="1.0" stroke="#000"/>
<line x1="331.90" y1="765.50" x2="518.40" y2="765.50" stroke-width="1.0" stroke="#000"/>
<line x1="238.75" y1="784.50" x2="611.25" y2="784.50" stroke-width="1.0" stroke="#000"/>
<line x1="192.50" y1="803.50" x2="656.50" y2="803.50" stroke-width="1.0" stroke="#000"/>
</g>
<polygon points="424.70,25.50 417.90,22.95 417.90,28.05" fill="#000" stroke="none"/>
<polygon points="445.00,25.50 451.80,22.95 451.80,28.05" fill="#000" stroke="none"/>
<polygon points="131.50,49.20 128.95,56.00 134.05,56.00" fill="#000" stroke="none"/>
<polygon points="131.50,512.30 128.95,505.50 134.05,505.50" fill="#000" stroke="none"/>
<polygon points="131.50,512.30 128.95,519.10 134.05,519.10" fill="#000" stroke="none"/>
<polygon points="131.50,682.00 128.95,675.20 134.05,675.20" fill="#000" stroke="none"/>
<polygon points="154.50,49.20 151.95,56.00 157.05,56.00" fill="#000" stroke="none"/>
<polygon points="154.50,107.00 151.95,100.20 157.05,100.20" fill="#000" stroke="none"/>
<polygon points="154.50,107.00 151.95,113.80 157.05,113.80" fill="#000" stroke="none"/>
<polygon points="154.50,489.10 151.95,482.30 157.05,482.30" fill="#000" stroke="none"/>
<polygon points="178.50,107.00 175.95,113.80 181.05,113.80" fill="#000" stroke="none"/>
<polygon points="178.50,156.00 175.95,149.20 181.05,149.20" fill="#000" stroke="none"/>
<polygon points="178.50,352.08 175.95,358.88 181.05,358.88" fill="#000" stroke="none"/>
<polygon points="178.50,391.28 175.95,384.48 181.05,384.48" fill="#000" stroke="none"/>
<polygon points="178.50,489.10 175.95,482.30 181.05,482.30" fill="#000" stroke="none"/>
<polygon points="178.50,538.00 175.95,544.80 181.05,544.80" fill="#000" stroke="none"/>
<polygon points="703.50,97.20 700.95,90.40 706.05,90.40" fill="#000" stroke="none"/>
<polygon points="703.50,116.25 700.95,123.05 706.05,123.05" fill="#000" stroke="none"/>
<polygon points="703.50,489.10 700.95,482.30 706.05,482.30" fill="#000" stroke="none"/>
<polygon points="687.50,116.25 684.95,123.05 690.05,123.05" fill="#000" stroke="none"/>
<polygon points="687.50,143.70 684.95,136.90 690.05,136.90" fill="#000" stroke="none"/>
<polygon points="688.50,320.15 685.95,326.95 691.05,326.95" fill="#000" stroke="none"/>
<polygon points="688.50,351.45 685.95,344.65 691.05,344.65" fill="#000" stroke="none"/>
<polygon points="356.40,726.50 363.20,723.95 363.20,729.05" fill="#000" stroke="none"/>
<polygon points="493.60,726.50 486.80,723.95 486.80,729.05" fill="#000" stroke="none"/>
<polygon points="346.30,746.50 353.10,743.95 353.10,749.05" fill="#000" stroke="none"/>
<polygon points="503.30,746.50 496.50,743.95 496.50,749.05" fill="#000" stroke="none"/>
<polygon points="331.90,765.50 338.70,762.95 338.70,768.05" fill="#000" stroke="none"/>
<polygon points="518.40,765.50 511.60,762.95 511.60,768.05" fill="#000" stroke="none"/>
<polygon points="238.75,784.50 245.55,781.95 245.55,787.05" fill="#000" stroke="none"/>
<polygon points="611.25,784.50 604.45,781.95 604.45,787.05" fill="#000" stroke="none"/>
<polygon points="192.50,803.50 199.30,800.95 199.30,806.05" fill="#000" stroke="none"/>
<polygon points="656.50,803.50 649.70,800.95 649.70,806.05" fill="#000" stroke="none"/>
<g stroke="#111" fill="none">
<line x1="687.50" y1="116.25" x2="687.50" y2="143.70" stroke-width="1.0" stroke="#000"/>
<line x1="688.50" y1="320.15" x2="688.50" y2="351.45" stroke-width="1.0" stroke="#000"/>
</g>
<g font-family="'Liberation Sans', Arial, sans-serif" style="opacity:0.999">
<text transform="translate(210.00,73.00)" x="0.00" y="0" font-size="13.36" textLength="56.50" lengthAdjust="spacingAndGlyphs" fill="#111" stroke="#111" stroke-width="0.3">FPC5788</text>
<text transform="translate(498.80,111.60)" x="0.00" y="0" font-size="12.48" textLength="52.74" lengthAdjust="spacingAndGlyphs" fill="#111" stroke="#111" stroke-width="0.3">IF CONFIG</text>
<text transform="translate(454.30,21.60)" x="0.00" y="0" font-size="12.48" textLength="54.66" lengthAdjust="spacingAndGlyphs" fill="#111" stroke="#111" stroke-width="0.3">2,54 (0.1&quot;)</text>
<text transform="translate(424.70,722.00)" x="-30.57" y="0" font-size="12.48" textLength="61.15" lengthAdjust="spacingAndGlyphs" fill="#111" stroke="#111" stroke-width="0.3">17,78 (0.7&quot;)</text>
<text transform="translate(424.70,741.70)" x="-30.57" y="0" font-size="12.48" textLength="61.15" lengthAdjust="spacingAndGlyphs" fill="#111" stroke="#111" stroke-width="0.3">20,32 (0.8&quot;)</text>
<text transform="translate(424.70,760.50)" x="-6.49" y="0" font-size="12.48" textLength="12.98" lengthAdjust="spacingAndGlyphs" fill="#111" stroke="#111" stroke-width="0.3">24</text>
<text transform="translate(424.70,780.00)" x="-30.57" y="0" font-size="12.48" textLength="61.15" lengthAdjust="spacingAndGlyphs" fill="#111" stroke="#111" stroke-width="0.3">48,26 (1.9&quot;)</text>
<text transform="translate(424.70,799.30)" x="-6.49" y="0" font-size="12.48" textLength="12.98" lengthAdjust="spacingAndGlyphs" fill="#111" stroke="#111" stroke-width="0.3">60</text>
<text transform="translate(685.90,796.40)" x="0.00" y="0" font-size="12.48" textLength="28.31" lengthAdjust="spacingAndGlyphs" fill="#111" stroke="#111" stroke-width="0.3">[mm]</text>
<text transform="translate(126.00,276.00) rotate(-90)" x="-6.49" y="0" font-size="12.48" textLength="12.98" lengthAdjust="spacingAndGlyphs" fill="#111" stroke="#111" stroke-width="0.3">60</text>
<text transform="translate(146.80,79.00) rotate(-90)" x="-8.09" y="0" font-size="12.48" textLength="16.18" lengthAdjust="spacingAndGlyphs" fill="#111" stroke="#111" stroke-width="0.3">7,5</text>
<text transform="translate(148.00,281.00) rotate(-90)" x="-33.82" y="0" font-size="12.48" textLength="67.64" lengthAdjust="spacingAndGlyphs" fill="#111" stroke="#111" stroke-width="0.3">49,53 (1.95&quot;)</text>
<text transform="translate(172.50,99.40) rotate(-90)" x="-30.57" y="0" font-size="12.48" textLength="61.15" lengthAdjust="spacingAndGlyphs" fill="#111" stroke="#111" stroke-width="0.3">6,35 (0.25&quot;)</text>
<text transform="translate(172.00,368.00) rotate(-90)" x="-27.33" y="0" font-size="12.48" textLength="54.66" lengthAdjust="spacingAndGlyphs" fill="#111" stroke="#111" stroke-width="0.3">5,08 (0.2&quot;)</text>
<text transform="translate(170.00,452.50) rotate(-90)" x="-30.57" y="0" font-size="12.48" textLength="61.15" lengthAdjust="spacingAndGlyphs" fill="#111" stroke="#111" stroke-width="0.3">6,35 (0.25&quot;)</text>
<text transform="translate(125.00,595.00) rotate(-90)" x="-6.49" y="0" font-size="12.48" textLength="12.98" lengthAdjust="spacingAndGlyphs" fill="#111" stroke="#111" stroke-width="0.3">22</text>
<text transform="translate(695.00,65.60) rotate(-90)" x="-27.33" y="0" font-size="12.48" textLength="54.66" lengthAdjust="spacingAndGlyphs" fill="#111" stroke="#111" stroke-width="0.3">2,54 (0.1&quot;)</text>
<text transform="translate(679.00,129.50) rotate(-90)" x="-11.33" y="0" font-size="12.48" textLength="22.67" lengthAdjust="spacingAndGlyphs" fill="#111" stroke="#111" stroke-width="0.3">3,56</text>
<text transform="translate(679.00,335.60) rotate(-90)" x="-11.33" y="0" font-size="12.48" textLength="22.67" lengthAdjust="spacingAndGlyphs" fill="#111" stroke="#111" stroke-width="0.3">4,06</text>
<text transform="translate(695.00,246.00) rotate(-90)" x="-30.57" y="0" font-size="12.48" textLength="61.15" lengthAdjust="spacingAndGlyphs" fill="#111" stroke="#111" stroke-width="0.3">48,26 (1.9&quot;)</text>
<text transform="translate(290.50,140.58)" x="0.00" y="0" font-size="9.17" textLength="15.24" lengthAdjust="spacingAndGlyphs" fill="#111" stroke="#111" stroke-width="0.35">DTX</text>
<text transform="translate(290.50,159.98)" x="0.00" y="0" font-size="9.17" textLength="15.76" lengthAdjust="spacingAndGlyphs" fill="#111" stroke="#111" stroke-width="0.35">DRX</text>
<text transform="translate(290.50,179.38)" x="0.00" y="0" font-size="9.17" textLength="10.70" lengthAdjust="spacingAndGlyphs" fill="#111" stroke="#111" stroke-width="0.35">G1</text>
<text transform="translate(290.50,198.78)" x="0.00" y="0" font-size="9.17" textLength="10.70" lengthAdjust="spacingAndGlyphs" fill="#111" stroke="#111" stroke-width="0.35">G2</text>
<text transform="translate(290.50,218.18)" x="0.00" y="0" font-size="9.17" textLength="10.70" lengthAdjust="spacingAndGlyphs" fill="#111" stroke="#111" stroke-width="0.35">G3</text>
<text transform="translate(290.50,237.58)" x="0.00" y="0" font-size="9.17" textLength="10.70" lengthAdjust="spacingAndGlyphs" fill="#111" stroke="#111" stroke-width="0.35">G4</text>
<text transform="translate(290.50,256.98)" x="0.00" y="0" font-size="9.17" textLength="10.70" lengthAdjust="spacingAndGlyphs" fill="#111" stroke="#111" stroke-width="0.35">G5</text>
<text transform="translate(290.50,276.38)" x="0.00" y="0" font-size="9.17" textLength="14.86" lengthAdjust="spacingAndGlyphs" fill="#111" stroke="#111" stroke-width="0.35">3V3</text>
<text transform="translate(290.50,295.78)" x="0.00" y="0" font-size="9.17" textLength="10.70" lengthAdjust="spacingAndGlyphs" fill="#111" stroke="#111" stroke-width="0.35">G6</text>
<text transform="translate(290.50,315.18)" x="0.00" y="0" font-size="9.17" textLength="10.70" lengthAdjust="spacingAndGlyphs" fill="#111" stroke="#111" stroke-width="0.35">G7</text>
<text transform="translate(290.50,334.58)" x="0.00" y="0" font-size="9.17" textLength="10.70" lengthAdjust="spacingAndGlyphs" fill="#111" stroke="#111" stroke-width="0.35">G8</text>
<text transform="translate(290.50,353.98)" x="0.00" y="0" font-size="9.17" textLength="10.70" lengthAdjust="spacingAndGlyphs" fill="#111" stroke="#111" stroke-width="0.35">G9</text>
<text transform="translate(290.50,392.53)" x="0.00" y="0" font-size="9.17" textLength="15.46" lengthAdjust="spacingAndGlyphs" fill="#111" stroke="#111" stroke-width="0.35">G10</text>
<text transform="translate(290.50,411.93)" x="0.00" y="0" font-size="9.17" textLength="15.46" lengthAdjust="spacingAndGlyphs" fill="#111" stroke="#111" stroke-width="0.35">G11</text>
<text transform="translate(290.50,431.33)" x="0.00" y="0" font-size="9.17" textLength="15.46" lengthAdjust="spacingAndGlyphs" fill="#111" stroke="#111" stroke-width="0.35">G12</text>
<text transform="translate(290.50,450.73)" x="0.00" y="0" font-size="9.17" textLength="15.46" lengthAdjust="spacingAndGlyphs" fill="#111" stroke="#111" stroke-width="0.35">G13</text>
<text transform="translate(290.50,470.13)" x="0.00" y="0" font-size="9.17" textLength="15.46" lengthAdjust="spacingAndGlyphs" fill="#111" stroke="#111" stroke-width="0.35">G14</text>
<text transform="translate(290.50,489.53)" x="0.00" y="0" font-size="9.17" textLength="15.46" lengthAdjust="spacingAndGlyphs" fill="#111" stroke="#111" stroke-width="0.35">G15</text>
<text transform="translate(226.20,219.08)" x="-16.78" y="0" font-size="9.17" textLength="16.78" lengthAdjust="spacingAndGlyphs" fill="#111" stroke="#111" stroke-width="0.35">(NC)</text>
<text transform="translate(226.20,238.53)" x="-28.29" y="0" font-size="9.17" textLength="28.29" lengthAdjust="spacingAndGlyphs" fill="#111" stroke="#111" stroke-width="0.35">(IOREF)</text>
<text transform="translate(226.20,257.98)" x="-28.87" y="0" font-size="9.17" textLength="28.87" lengthAdjust="spacingAndGlyphs" fill="#111" stroke="#111" stroke-width="0.35">(RESET)</text>
<text transform="translate(226.20,277.43)" x="-27.98" y="0" font-size="9.17" textLength="27.98" lengthAdjust="spacingAndGlyphs" fill="#111" stroke="#111" stroke-width="0.35">3V3_IN</text>
<text transform="translate(226.20,296.88)" x="-28.91" y="0" font-size="9.17" textLength="28.91" lengthAdjust="spacingAndGlyphs" fill="#111" stroke="#111" stroke-width="0.35">(5V_IN)</text>
<text transform="translate(226.20,316.33)" x="-17.78" y="0" font-size="9.17" textLength="17.78" lengthAdjust="spacingAndGlyphs" fill="#111" stroke="#111" stroke-width="0.35">GND</text>
<text transform="translate(226.20,335.78)" x="-17.78" y="0" font-size="9.17" textLength="17.78" lengthAdjust="spacingAndGlyphs" fill="#111" stroke="#111" stroke-width="0.35">GND</text>
<text transform="translate(226.20,355.23)" x="-19.47" y="0" font-size="9.17" textLength="19.47" lengthAdjust="spacingAndGlyphs" fill="#111" stroke="#111" stroke-width="0.35">(VIN)</text>
<text transform="translate(226.20,392.78)" x="-15.90" y="0" font-size="9.17" textLength="15.90" lengthAdjust="spacingAndGlyphs" fill="#111" stroke="#111" stroke-width="0.35">(A0)</text>
<text transform="translate(226.20,412.18)" x="-15.90" y="0" font-size="9.17" textLength="15.90" lengthAdjust="spacingAndGlyphs" fill="#111" stroke="#111" stroke-width="0.35">(A1)</text>
<text transform="translate(226.20,431.58)" x="-15.90" y="0" font-size="9.17" textLength="15.90" lengthAdjust="spacingAndGlyphs" fill="#111" stroke="#111" stroke-width="0.35">(A2)</text>
<text transform="translate(226.20,450.98)" x="-15.90" y="0" font-size="9.17" textLength="15.90" lengthAdjust="spacingAndGlyphs" fill="#111" stroke="#111" stroke-width="0.35">(A3)</text>
<text transform="translate(226.20,470.38)" x="-15.90" y="0" font-size="9.17" textLength="15.90" lengthAdjust="spacingAndGlyphs" fill="#111" stroke="#111" stroke-width="0.35">(A4)</text>
<text transform="translate(226.20,489.78)" x="-15.90" y="0" font-size="9.17" textLength="15.90" lengthAdjust="spacingAndGlyphs" fill="#111" stroke="#111" stroke-width="0.35">(A5)</text>
<text transform="translate(238.50,140.00)" x="-17.64" y="0" font-size="9.17" textLength="35.29" lengthAdjust="spacingAndGlyphs" fill="#111" stroke="#111" stroke-width="0.35">H_RST_N</text>
<text transform="translate(356.20,216.91)" x="0.00" y="0" font-size="9.17" textLength="24.75" lengthAdjust="spacingAndGlyphs" fill="#111" stroke="#111" stroke-width="0.35">RST_N</text>
<text transform="translate(358.70,236.82)" x="0.00" y="0" font-size="9.17" textLength="14.86" lengthAdjust="spacingAndGlyphs" fill="#111" stroke="#111" stroke-width="0.35">3V3</text>
<text transform="translate(358.70,276.03)" x="0.00" y="0" font-size="9.17" textLength="17.78" lengthAdjust="spacingAndGlyphs" fill="#111" stroke="#111" stroke-width="0.35">GND</text>
<text transform="translate(358.70,295.64)" x="0.00" y="0" font-size="9.17" textLength="10.64" lengthAdjust="spacingAndGlyphs" fill="#111" stroke="#111" stroke-width="0.35">DP</text>
<text transform="translate(358.70,315.24)" x="0.00" y="0" font-size="9.17" textLength="13.82" lengthAdjust="spacingAndGlyphs" fill="#111" stroke="#111" stroke-width="0.35">DM</text>
<text transform="translate(358.70,334.85)" x="0.00" y="0" font-size="9.17" textLength="20.02" lengthAdjust="spacingAndGlyphs" fill="#111" stroke="#111" stroke-width="0.35">CFG1</text>
<text transform="translate(358.70,354.46)" x="0.00" y="0" font-size="9.17" textLength="20.02" lengthAdjust="spacingAndGlyphs" fill="#111" stroke="#111" stroke-width="0.35">CFG2</text>
<text transform="translate(358.70,374.06)" x="0.00" y="0" font-size="9.17" textLength="13.80" lengthAdjust="spacingAndGlyphs" fill="#111" stroke="#111" stroke-width="0.35">IRQ</text>
<text transform="translate(358.70,393.67)" x="0.00" y="0" font-size="9.17" textLength="20.08" lengthAdjust="spacingAndGlyphs" fill="#111" stroke="#111" stroke-width="0.35">CS_N</text>
<text transform="translate(358.70,413.27)" x="0.00" y="0" font-size="9.17" textLength="14.21" lengthAdjust="spacingAndGlyphs" fill="#111" stroke="#111" stroke-width="0.35">SCK</text>
<text transform="translate(358.70,432.88)" x="0.00" y="0" font-size="9.17" textLength="20.94" lengthAdjust="spacingAndGlyphs" fill="#111" stroke="#111" stroke-width="0.35">MOSI</text>
<text transform="translate(358.70,452.49)" x="0.00" y="0" font-size="9.17" textLength="20.94" lengthAdjust="spacingAndGlyphs" fill="#111" stroke="#111" stroke-width="0.35">MISO</text>
<text transform="translate(358.70,472.09)" x="0.00" y="0" font-size="9.17" textLength="9.46" lengthAdjust="spacingAndGlyphs" fill="#111" stroke="#111" stroke-width="0.35">TX</text>
<text transform="translate(358.70,491.70)" x="0.00" y="0" font-size="9.17" textLength="9.98" lengthAdjust="spacingAndGlyphs" fill="#111" stroke="#111" stroke-width="0.35">RX</text>
<text transform="translate(491.00,354.96)" x="-10.70" y="0" font-size="9.17" textLength="10.70" lengthAdjust="spacingAndGlyphs" fill="#111" stroke="#111" stroke-width="0.35">G1</text>
<text transform="translate(491.00,374.56)" x="-10.70" y="0" font-size="9.17" textLength="10.70" lengthAdjust="spacingAndGlyphs" fill="#111" stroke="#111" stroke-width="0.35">G2</text>
<text transform="translate(491.00,394.17)" x="-10.70" y="0" font-size="9.17" textLength="10.70" lengthAdjust="spacingAndGlyphs" fill="#111" stroke="#111" stroke-width="0.35">G3</text>
<text transform="translate(491.00,413.77)" x="-10.70" y="0" font-size="9.17" textLength="10.70" lengthAdjust="spacingAndGlyphs" fill="#111" stroke="#111" stroke-width="0.35">G6</text>
<text transform="translate(491.00,433.38)" x="-10.70" y="0" font-size="9.17" textLength="10.70" lengthAdjust="spacingAndGlyphs" fill="#111" stroke="#111" stroke-width="0.35">G7</text>
<text transform="translate(491.00,452.99)" x="-10.70" y="0" font-size="9.17" textLength="10.70" lengthAdjust="spacingAndGlyphs" fill="#111" stroke="#111" stroke-width="0.35">G4</text>
<text transform="translate(491.00,472.59)" x="-10.70" y="0" font-size="9.17" textLength="10.70" lengthAdjust="spacingAndGlyphs" fill="#111" stroke="#111" stroke-width="0.35">G5</text>
<text transform="translate(491.00,492.20)" x="-13.27" y="0" font-size="9.17" textLength="13.27" lengthAdjust="spacingAndGlyphs" fill="#111" stroke="#111" stroke-width="0.35">SCL</text>
<text transform="translate(491.00,511.80)" x="-15.54" y="0" font-size="9.17" textLength="15.54" lengthAdjust="spacingAndGlyphs" fill="#111" stroke="#111" stroke-width="0.35">SDA</text>
<text transform="translate(382.50,222.50)" x="0.00" y="0" font-size="9.17" textLength="15.46" lengthAdjust="spacingAndGlyphs" fill="#111" stroke="#111" stroke-width="0.35">G15</text>
<text transform="translate(400.00,222.50)" x="0.00" y="0" font-size="9.17" textLength="15.46" lengthAdjust="spacingAndGlyphs" fill="#111" stroke="#111" stroke-width="0.35">G14</text>
<text transform="translate(419.50,222.50)" x="0.00" y="0" font-size="9.17" textLength="15.46" lengthAdjust="spacingAndGlyphs" fill="#111" stroke="#111" stroke-width="0.35">G13</text>
<text transform="translate(438.75,222.50)" x="0.00" y="0" font-size="9.17" textLength="15.46" lengthAdjust="spacingAndGlyphs" fill="#111" stroke="#111" stroke-width="0.35">G12</text>
<text transform="translate(458.75,222.50)" x="0.00" y="0" font-size="9.17" textLength="15.24" lengthAdjust="spacingAndGlyphs" fill="#111" stroke="#111" stroke-width="0.35">DTX</text>
<text transform="translate(380.00,270.00)" x="0.00" y="0" font-size="9.17" textLength="15.46" lengthAdjust="spacingAndGlyphs" fill="#111" stroke="#111" stroke-width="0.35">G11</text>
<text transform="translate(400.00,270.00)" x="0.00" y="0" font-size="9.17" textLength="15.46" lengthAdjust="spacingAndGlyphs" fill="#111" stroke="#111" stroke-width="0.35">G10</text>
<text transform="translate(419.50,270.00)" x="0.00" y="0" font-size="9.17" textLength="10.70" lengthAdjust="spacingAndGlyphs" fill="#111" stroke="#111" stroke-width="0.35">G9</text>
<text transform="translate(438.75,270.00)" x="0.00" y="0" font-size="9.17" textLength="10.70" lengthAdjust="spacingAndGlyphs" fill="#111" stroke="#111" stroke-width="0.35">G8</text>
<text transform="translate(457.00,270.00)" x="0.00" y="0" font-size="9.17" textLength="15.76" lengthAdjust="spacingAndGlyphs" fill="#111" stroke="#111" stroke-width="0.35">DRX</text>
<text transform="translate(437.00,281.30)" x="0.00" y="0" font-size="9.17" textLength="14.46" lengthAdjust="spacingAndGlyphs" fill="#111" stroke="#111" stroke-width="0.35">BT0</text>
<text transform="translate(454.50,281.30)" x="0.00" y="0" font-size="9.17" textLength="18.90" lengthAdjust="spacingAndGlyphs" fill="#111" stroke="#111" stroke-width="0.35">SWO</text>
<text transform="translate(433.75,330.00)" x="0.00" y="0" font-size="9.17" textLength="17.69" lengthAdjust="spacingAndGlyphs" fill="#111" stroke="#111" stroke-width="0.35">SWC</text>
<text transform="translate(455.50,330.00)" x="0.00" y="0" font-size="9.17" textLength="18.46" lengthAdjust="spacingAndGlyphs" fill="#111" stroke="#111" stroke-width="0.35">SWD</text>
<text transform="translate(558.00,148.88)" x="-13.27" y="0" font-size="9.17" textLength="13.27" lengthAdjust="spacingAndGlyphs" fill="#111" stroke="#111" stroke-width="0.35">SCL</text>
<text transform="translate(558.00,168.19)" x="-15.54" y="0" font-size="9.17" textLength="15.54" lengthAdjust="spacingAndGlyphs" fill="#111" stroke="#111" stroke-width="0.35">SDA</text>
<text transform="translate(558.00,206.81)" x="-17.78" y="0" font-size="9.17" textLength="17.78" lengthAdjust="spacingAndGlyphs" fill="#111" stroke="#111" stroke-width="0.35">GND</text>
<text transform="translate(558.00,226.12)" x="-14.21" y="0" font-size="9.17" textLength="14.21" lengthAdjust="spacingAndGlyphs" fill="#111" stroke="#111" stroke-width="0.35">SCK</text>
<text transform="translate(558.00,245.43)" x="-20.94" y="0" font-size="9.17" textLength="20.94" lengthAdjust="spacingAndGlyphs" fill="#111" stroke="#111" stroke-width="0.35">MISO</text>
<text transform="translate(558.00,264.74)" x="-20.94" y="0" font-size="9.17" textLength="20.94" lengthAdjust="spacingAndGlyphs" fill="#111" stroke="#111" stroke-width="0.35">MOSI</text>
<text transform="translate(558.00,284.05)" x="-20.08" y="0" font-size="9.17" textLength="20.08" lengthAdjust="spacingAndGlyphs" fill="#111" stroke="#111" stroke-width="0.35">CS_N</text>
<text transform="translate(558.00,303.36)" x="-10.64" y="0" font-size="9.17" textLength="10.64" lengthAdjust="spacingAndGlyphs" fill="#111" stroke="#111" stroke-width="0.35">DP</text>
<text transform="translate(558.00,322.67)" x="-13.82" y="0" font-size="9.17" textLength="13.82" lengthAdjust="spacingAndGlyphs" fill="#111" stroke="#111" stroke-width="0.35">DM</text>
<text transform="translate(622.50,147.18)" x="0.00" y="0" font-size="9.17" textLength="21.01" lengthAdjust="spacingAndGlyphs" fill="#111" stroke="#111" stroke-width="0.35">(D15)</text>
<text transform="translate(622.50,166.54)" x="0.00" y="0" font-size="9.17" textLength="21.01" lengthAdjust="spacingAndGlyphs" fill="#111" stroke="#111" stroke-width="0.35">(D14)</text>
<text transform="translate(622.50,185.90)" x="0.00" y="0" font-size="9.17" textLength="25.14" lengthAdjust="spacingAndGlyphs" fill="#111" stroke="#111" stroke-width="0.35">(AREF)</text>
<text transform="translate(622.50,205.26)" x="0.00" y="0" font-size="9.17" textLength="17.78" lengthAdjust="spacingAndGlyphs" fill="#111" stroke="#111" stroke-width="0.35">GND</text>
<text transform="translate(622.50,224.62)" x="0.00" y="0" font-size="9.17" textLength="21.01" lengthAdjust="spacingAndGlyphs" fill="#111" stroke="#111" stroke-width="0.35">(D13)</text>
<text transform="translate(622.50,243.98)" x="0.00" y="0" font-size="9.17" textLength="21.01" lengthAdjust="spacingAndGlyphs" fill="#111" stroke="#111" stroke-width="0.35">(D12)</text>
<text transform="translate(622.50,263.34)" x="0.00" y="0" font-size="9.17" textLength="21.01" lengthAdjust="spacingAndGlyphs" fill="#111" stroke="#111" stroke-width="0.35">(D11)</text>
<text transform="translate(622.50,282.70)" x="0.00" y="0" font-size="9.17" textLength="21.01" lengthAdjust="spacingAndGlyphs" fill="#111" stroke="#111" stroke-width="0.35">(D10)</text>
<text transform="translate(622.50,302.06)" x="0.00" y="0" font-size="9.17" textLength="16.24" lengthAdjust="spacingAndGlyphs" fill="#111" stroke="#111" stroke-width="0.35">(D9)</text>
<text transform="translate(622.50,321.42)" x="0.00" y="0" font-size="9.17" textLength="16.24" lengthAdjust="spacingAndGlyphs" fill="#111" stroke="#111" stroke-width="0.35">(D8)</text>
<text transform="translate(558.00,375.68)" x="-14.46" y="0" font-size="9.17" textLength="14.46" lengthAdjust="spacingAndGlyphs" fill="#111" stroke="#111" stroke-width="0.35">BT0</text>
<text transform="translate(558.00,394.98)" x="-20.02" y="0" font-size="9.17" textLength="20.02" lengthAdjust="spacingAndGlyphs" fill="#111" stroke="#111" stroke-width="0.35">CFG2</text>
<text transform="translate(558.00,414.28)" x="-20.02" y="0" font-size="9.17" textLength="20.02" lengthAdjust="spacingAndGlyphs" fill="#111" stroke="#111" stroke-width="0.35">CFG1</text>
<text transform="translate(558.00,433.58)" x="-24.75" y="0" font-size="9.17" textLength="24.75" lengthAdjust="spacingAndGlyphs" fill="#111" stroke="#111" stroke-width="0.35">RST_N</text>
<text transform="translate(558.00,452.88)" x="-13.80" y="0" font-size="9.17" textLength="13.80" lengthAdjust="spacingAndGlyphs" fill="#111" stroke="#111" stroke-width="0.35">IRQ</text>
<text transform="translate(558.00,472.18)" x="-9.98" y="0" font-size="9.17" textLength="9.98" lengthAdjust="spacingAndGlyphs" fill="#111" stroke="#111" stroke-width="0.35">RX</text>
<text transform="translate(558.00,491.48)" x="-9.46" y="0" font-size="9.17" textLength="9.46" lengthAdjust="spacingAndGlyphs" fill="#111" stroke="#111" stroke-width="0.35">TX</text>
<text transform="translate(622.50,354.38)" x="0.00" y="0" font-size="9.17" textLength="16.24" lengthAdjust="spacingAndGlyphs" fill="#111" stroke="#111" stroke-width="0.35">(D7)</text>
<text transform="translate(622.50,373.71)" x="0.00" y="0" font-size="9.17" textLength="16.24" lengthAdjust="spacingAndGlyphs" fill="#111" stroke="#111" stroke-width="0.35">(D6)</text>
<text transform="translate(622.50,393.04)" x="0.00" y="0" font-size="9.17" textLength="16.24" lengthAdjust="spacingAndGlyphs" fill="#111" stroke="#111" stroke-width="0.35">(D5)</text>
<text transform="translate(622.50,412.37)" x="0.00" y="0" font-size="9.17" textLength="16.24" lengthAdjust="spacingAndGlyphs" fill="#111" stroke="#111" stroke-width="0.35">(D4)</text>
<text transform="translate(622.50,431.70)" x="0.00" y="0" font-size="9.17" textLength="16.24" lengthAdjust="spacingAndGlyphs" fill="#111" stroke="#111" stroke-width="0.35">(D3)</text>
<text transform="translate(622.50,451.03)" x="0.00" y="0" font-size="9.17" textLength="16.24" lengthAdjust="spacingAndGlyphs" fill="#111" stroke="#111" stroke-width="0.35">(D2)</text>
<text transform="translate(622.50,470.36)" x="0.00" y="0" font-size="9.17" textLength="16.24" lengthAdjust="spacingAndGlyphs" fill="#111" stroke="#111" stroke-width="0.35">(D1)</text>
<text transform="translate(622.50,489.69)" x="0.00" y="0" font-size="9.17" textLength="16.24" lengthAdjust="spacingAndGlyphs" fill="#111" stroke="#111" stroke-width="0.35">(D0)</text>
<text transform="translate(446.60,84.90) rotate(-90)" x="0.00" y="0" font-size="9.17" textLength="14.86" lengthAdjust="spacingAndGlyphs" fill="#111" stroke="#111" stroke-width="0.55">3V3</text>
<text transform="translate(466.21,84.90) rotate(-90)" x="0.00" y="0" font-size="9.17" textLength="20.02" lengthAdjust="spacingAndGlyphs" fill="#111" stroke="#111" stroke-width="0.55">CFG2</text>
<text transform="translate(485.81,84.90) rotate(-90)" x="0.00" y="0" font-size="9.17" textLength="17.78" lengthAdjust="spacingAndGlyphs" fill="#111" stroke="#111" stroke-width="0.55">GND</text>
<text transform="translate(446.60,128.40) rotate(-90)" x="-14.86" y="0" font-size="9.17" textLength="14.86" lengthAdjust="spacingAndGlyphs" fill="#111" stroke="#111" stroke-width="0.55">3V3</text>
<text transform="translate(466.21,128.40) rotate(-90)" x="-20.02" y="0" font-size="9.17" textLength="20.02" lengthAdjust="spacingAndGlyphs" fill="#111" stroke="#111" stroke-width="0.55">CFG1</text>
<text transform="translate(485.81,128.40) rotate(-90)" x="-17.78" y="0" font-size="9.17" textLength="17.78" lengthAdjust="spacingAndGlyphs" fill="#111" stroke="#111" stroke-width="0.55">GND</text>
<text transform="translate(342.00,126.00) rotate(-90)" x="0.00" y="0" font-size="5.36" textLength="2.79" lengthAdjust="spacingAndGlyphs" fill="#777" stroke="#777" stroke-width="0.3">1</text>
<text transform="translate(410.00,97.60)" x="0.00" y="0" font-size="4.09" textLength="8.30" lengthAdjust="spacingAndGlyphs" fill="#888" stroke="#888" stroke-width="0.3">100k</text>
<text transform="translate(410.00,108.90)" x="0.00" y="0" font-size="4.09" textLength="8.30" lengthAdjust="spacingAndGlyphs" fill="#888" stroke="#888" stroke-width="0.3">100k</text>
<text transform="translate(410.00,121.00)" x="0.00" y="0" font-size="4.09" textLength="8.30" lengthAdjust="spacingAndGlyphs" fill="#888" stroke="#888" stroke-width="0.3">100k</text>
<text x="380.2" y="653.2" font-size="12.6" font-weight="bold" textLength="89.6" lengthAdjust="spacingAndGlyphs" fill="#333" stroke="#333" stroke-width="0.35">FINGERPRINTS</text>
</g>
</svg>
</body></html>
